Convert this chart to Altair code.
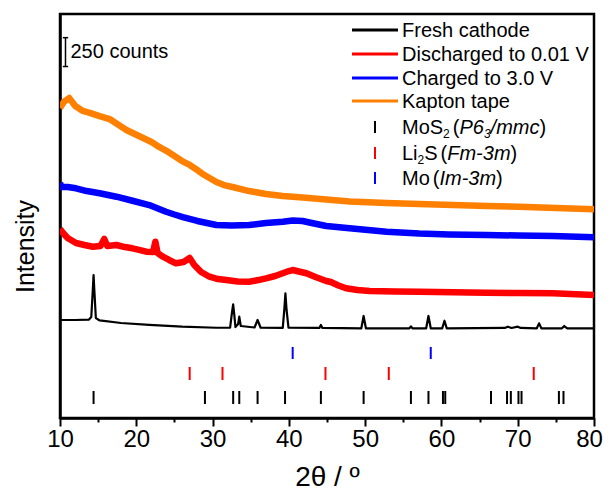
import altair as alt
import pandas as pd

FONT = "Liberation Sans"

# ---------------- data (2theta in degrees, intensity in counts) ----------------
kapton_x = [10.0, 10.5, 11.2, 12.0, 13.0, 14.0, 15.2, 16.5, 17.5, 18.7, 19.8, 20.9, 22.0, 23.0,
            24.0, 25.2, 26.0, 27.0, 28.0, 28.7, 29.6, 30.5, 31.5, 32.6, 34.8, 37.0, 39.2, 41.8,
            44.9, 48.0, 52.8, 57.0, 61.5, 66.0, 70.2, 75.0, 80.0]
kapton_y = [2686, 2738, 2772, 2703, 2660, 2642, 2616, 2590, 2547, 2495, 2460, 2426, 2391, 2348,
            2313, 2261, 2226, 2192, 2148, 2114, 2079, 2044, 2018, 2001, 1966, 1941, 1923, 1910,
            1893, 1876, 1863, 1854, 1845, 1837, 1830, 1819, 1808]

charged_x = [10.0, 10.2, 11.0, 12.1, 13.5, 15.2, 17.4, 19.5, 21.7, 23.0, 23.9, 25.0, 26.1, 28.0,
             30.5, 32.5, 34.8, 37.0, 39.2, 40.5, 41.8, 43.0, 44.9, 48.3, 52.8, 57.1, 61.0, 65.9,
             70.0, 74.6, 80.0]
charged_y = [2036, 2001, 2001, 1990, 1966, 1947, 1917, 1882, 1845, 1811, 1787, 1763, 1741, 1707,
             1672, 1668, 1672, 1689, 1701, 1711, 1707, 1689, 1663, 1642, 1614, 1598, 1590, 1585,
             1581, 1577, 1565]

discharged_x = [10.0, 10.4, 11.0, 12.1, 13.2, 14.3, 15.3, 15.8, 16.2, 17.4, 18.5, 19.5, 20.5, 21.3,
                22.2, 22.5, 22.8, 23.5, 24.3, 25.2, 26.2, 27.0, 27.6, 28.5, 29.6, 30.7, 31.8, 33.3,
                34.8, 36.0, 37.0, 38.2, 39.2, 40.0, 40.5, 41.3, 42.3, 43.5, 44.9, 45.5, 46.5, 47.5,
                49.0, 50.6, 54.0, 57.1, 61.5, 65.9, 70.2, 74.6, 80.0]
discharged_y = [1637, 1603, 1559, 1516, 1499, 1484, 1490, 1551, 1490, 1499, 1481, 1470, 1455, 1441,
                1438, 1527, 1429, 1397, 1369, 1340, 1351, 1386, 1325, 1265, 1224, 1204, 1195, 1182,
                1181, 1195, 1210, 1230, 1254, 1273, 1282, 1269, 1254, 1221, 1187, 1178, 1148, 1124,
                1109, 1100, 1096, 1094, 1090, 1085, 1083, 1080, 1066]

fresh_x = [10.0, 12.0, 13.8, 14.1, 14.3, 14.4, 14.5, 14.7, 15.2, 18.0, 21.7, 26.0, 30.5, 32.3,
           32.55, 32.7, 32.85, 33.0, 33.35, 33.5, 33.7, 35.5, 35.9, 36.3, 39.2, 39.4, 39.55, 39.7,
           39.95, 44.0, 44.2, 44.4, 49.5, 49.8, 50.1, 55.8, 56.0, 56.2, 58.0, 58.3, 58.6, 60.1,
           60.4, 60.7, 68.3, 68.7, 69.2, 70.0, 70.4, 72.5, 72.8, 73.1, 75.8, 76.1, 76.5, 80.0]
fresh_y = [849, 849, 853, 875, 1109, 1239, 1109, 866, 845, 823, 806, 791, 782, 782,
           918, 985, 892, 788, 814, 878, 797, 784, 849, 782, 780, 936, 1080, 936,
           782, 780, 806, 780, 777, 884, 777, 777, 793, 777, 777, 884, 777, 777,
           843, 777, 780, 791, 780, 791, 780, 777, 820, 777, 777, 797, 777, 777]

# reference patterns (peak positions, 2theta)
mos2_pos = [14.4, 29.0, 32.7, 33.5, 35.9, 39.5, 44.2, 49.8, 56.0, 58.3, 60.2, 60.5, 66.5,
            68.6, 69.1, 70.1, 70.5, 75.4, 76.0]
li2s_pos = [27.0, 31.3, 44.8, 53.1, 72.1]
mo_pos = [40.5, 58.6]
# vertical extent (counts) of each reference row of bars
mos2_rows = [121, 234]
li2s_rows = [329, 442]
mo_rows = [511, 615]

series_names = ["Fresh cathode", "Discharged to 0.01 V", "Charged to 3.0 V", "Kapton tape"]
series_colors = ["#000000", "#ff0000", "#0000ff", "#ff8000"]
series_widths = [2.2, 6.5, 6.5, 6.5]

scalebar_counts = 250
scalebar_base = 3045
scalebar_x = 10.72

x_ticks = [10, 15, 20, 25, 30, 35, 40, 45, 50, 55, 60, 65, 70, 75, 80]

# ---------------- chart ----------------
x_scale = alt.Scale(domain=[10, 80], nice=False, zero=False)
y_scale = alt.Scale(domain=[0, 3500], nice=False, zero=False)

x_axis = alt.Axis(
    values=x_ticks,
    labelExpr="datum.value % 10 === 0 ? datum.label : ''",
    tickSize={"condition": {"test": "datum.value % 10 !== 0", "value": 4}, "value": 8},
    labelOffset={"condition": {"test": "datum.value === 80", "value": -5}, "value": 0},
    tickColor="black", tickWidth=2, domainColor="black", domainWidth=2.5,
    labelFont=FONT, labelFontSize=24, labelColor="black", labelPadding=1,
    labelFlush=False, labelOverlap=False,
    title="2θ / º", titleFont=FONT, titleFontSize=28, titleFontWeight="normal",
    titleColor="black", titlePadding=12, grid=False,
)
y_axis = alt.Axis(
    labels=False, ticks=False, grid=False, domainColor="black", domainWidth=2.5,
    title="Intensity", titleFont=FONT, titleFontSize=25, titleFontWeight="normal",
    titleColor="black", titlePadding=22, titleY=232,
)

X = lambda f: alt.X(f, scale=x_scale, axis=x_axis)
Y = lambda f: alt.Y(f, scale=y_scale, axis=y_axis)

layers = []
series_data = [(fresh_x, fresh_y), (discharged_x, discharged_y),
               (charged_x, charged_y), (kapton_x, kapton_y)]
for name, color, w, (xs, ys) in zip(series_names, series_colors, series_widths, series_data):
    df = pd.DataFrame({"two_theta": xs, "counts": ys, "series": name})
    layers.append(
        alt.Chart(df).mark_line(color=color, strokeWidth=w, strokeJoin="round", clip=True).encode(
            x=X("two_theta:Q"), y=Y("counts:Q"))
    )

for pos, rows, color in [(mos2_pos, mos2_rows, "#000000"), (li2s_pos, li2s_rows, "#ff0000"),
                         (mo_pos, mo_rows, "#0000ff")]:
    df = pd.DataFrame({"two_theta": pos, "lo": rows[0], "hi": rows[1]})
    layers.append(
        alt.Chart(df).mark_rule(color=color, strokeWidth=2).encode(
            x=X("two_theta:Q"), y=Y("lo:Q"), y2="hi:Q")
    )

# scale bar (250 counts)
sb = pd.DataFrame({"x": [scalebar_x], "lo": [scalebar_base], "hi": [scalebar_base + scalebar_counts],
                   "xa": [scalebar_x - 0.35], "xb": [scalebar_x + 0.35],
                   "mid": [scalebar_base + scalebar_counts / 2], "label": [f"{scalebar_counts} counts"]})
layers.append(alt.Chart(sb).mark_rule(color="black", strokeWidth=1.5).encode(
    x=X("x:Q"), y=Y("lo:Q"), y2="hi:Q"))
for end in ["lo", "hi"]:
    layers.append(alt.Chart(sb).mark_rule(color="black", strokeWidth=1.5).encode(
        x=X("xa:Q"), x2="xb:Q", y=Y(f"{end}:Q")))
layers.append(alt.Chart(sb).mark_text(align="left", baseline="middle", dx=5, font=FONT,
                                      fontSize=20, color="black").encode(
    x=X("x:Q"), y=Y("mid:Q"), text="label:N"))

# ---------------- manual legend ----------------
ARIAL_W = {"M": 833, "o": 556, "S": 667, " ": 278, "(": 333, ")": 333, "P": 667, "6": 556,
           "3": 556, "/": 278, "m": 833, "c": 500, "L": 556, "i": 222, "F": 611, "-": 333,
           "I": 278, "2": 556}


def text_width(s, size):
    return sum(ARIAL_W.get(ch, 556) for ch in s) * size / 1000.0


one = alt.Data(values=[{"k": 1}])
LEG_LINE_X = (292, 338)
LEG_TEXT_X = 342
LEG_FS = 20
line_rows_y = [16, 40, 64, 87]
for name, color, y in zip(series_names, series_colors, line_rows_y):
    layers.append(alt.Chart(one).mark_rule(color=color, strokeWidth=3).encode(
        x=alt.value(LEG_LINE_X[0]), x2=alt.value(LEG_LINE_X[1]), y=alt.value(y)))
    layers.append(alt.Chart(one).mark_text(text=name, align="left", baseline="middle", font=FONT,
                                           fontSize=LEG_FS, color="black").encode(
        x=alt.value(LEG_TEXT_X), y=alt.value(y + 1)))

# phase entries: (text, kind, gap before) kind: n normal, s subscript, i italic, si sub italic
phase_labels = [
    [("MoS", "n", 0), ("2", "s", 0), ("(", "n", 3), ("P6", "i", 0), ("3", "si", 0), ("/mmc", "i", 0), (")", "n", 0)],
    [("Li", "n", 0), ("2", "s", 0), ("S", "n", 0), ("(", "n", 3), ("Fm-3m", "i", 0), (")", "n", 0)],
    [("Mo", "n", 0), ("(", "n", 3), ("Im-3m", "i", 0), (")", "n", 0)],
]
phase_colors = ["#000000", "#ff0000", "#0000ff"]
phase_rows_y = [113, 139, 164]
SUB_FS = 12
for segs, color, y in zip(phase_labels, phase_colors, phase_rows_y):
    layers.append(alt.Chart(one).mark_rule(color=color, strokeWidth=2).encode(
        x=alt.value(sum(LEG_LINE_X) / 2), y=alt.value(y - 6), y2=alt.value(y + 6)))
    xcur = LEG_TEXT_X
    base = y + 7
    for txt, kind, gap in segs:
        xcur += gap
        fs = SUB_FS if "s" in kind else LEG_FS
        style = "italic" if "i" in kind else "normal"
        yy = base + 4 if "s" in kind else base
        layers.append(alt.Chart(one).mark_text(text=txt, align="left", baseline="alphabetic",
                                               font=FONT, fontSize=fs, fontStyle=style,
                                               color="black").encode(
            x=alt.value(xcur), y=alt.value(yy)))
        xcur += text_width(txt, fs)

chart = alt.layer(*layers).properties(
    width=534, height=404,
    padding={"left": 52, "top": 6, "right": 10, "bottom": 75},
    autosize="none",
    background="white",
).configure_view(stroke="black", strokeWidth=2.5)

chart.save("out.html", embed_options={"renderer": "svg", "actions": False})
